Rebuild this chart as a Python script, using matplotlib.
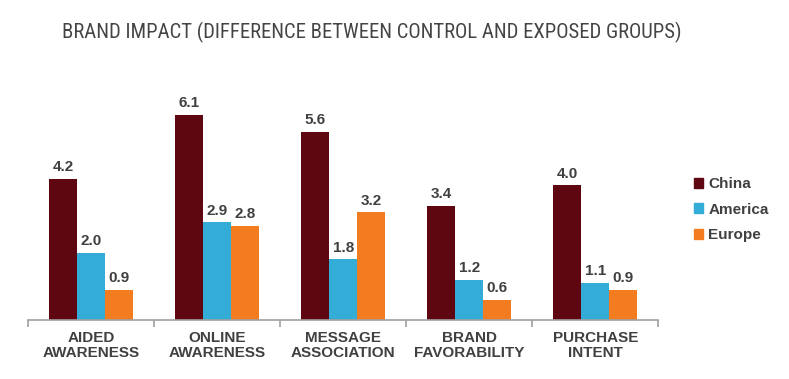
import matplotlib
matplotlib.use("Agg")
import numpy as np
import matplotlib.pyplot as plt
from matplotlib.patches import Patch
from matplotlib import font_manager

categories = ["AIDED\nAWARENESS", "ONLINE\nAWARENESS", "MESSAGE\nASSOCIATION",
              "BRAND\nFAVORABILITY", "PURCHASE\nINTENT"]
series = ["China", "America", "Europe"]
china = [4.2, 6.1, 5.6, 3.4, 4.0]
america = [2.0, 2.9, 1.8, 1.2, 1.1]
europe = [0.9, 2.8, 3.2, 0.6, 0.9]

title = "BRAND IMPACT (DIFFERENCE BETWEEN CONTROL AND EXPOSED GROUPS)"

colors = ["#5e0711", "#33add8", "#f47c20"]
text_col = "#404040"

plt.rcParams["font.family"] = ["Liberation Sans", "DejaVu Sans"]

# pick a narrow face for the title if one is installed
names = {f.name for f in font_manager.fontManager.ttflist}
title_font = {"family": "Liberation Sans"}
for cand in ["Liberation Sans Narrow", "Roboto Condensed", "Open Sans Condensed",
             "DejaVu Sans Condensed"]:
    if cand in names:
        title_font = {"family": cand}
        break
else:
    cond = [f for f in font_manager.fontManager.ttflist
            if f.stretch in ("condensed", "semi-condensed", "extra-condensed")
            and f.style == "normal"]
    if cond:
        title_font = {"family": cond[0].name, "stretch": cond[0].stretch}

fig = plt.figure(figsize=(7.89, 3.79), dpi=100)
ax = fig.add_axes([0.0359, 0.1557, 0.7985, 0.577])

x = np.arange(len(categories)) + 0.5
w = 0.222
for i, (name, vals) in enumerate(zip(series, [china, america, europe])):
    bars = ax.bar(x + (i - 1) * w, vals, width=w, color=colors[i], label=name)
    for b, v in zip(bars, vals):
        ax.annotate(f"{v:.1f}", (b.get_x() + b.get_width() / 2, v),
                    xytext=(0, 3.3), textcoords="offset points",
                    ha="center", va="bottom", fontsize=11, fontweight="bold",
                    color=text_col)

ax.set_xlim(0, len(categories))
ax.set_ylim(0, 6.5)
for s in ["top", "right", "left"]:
    ax.spines[s].set_visible(False)
ax.spines["bottom"].set_color("#a0a0a0")
ax.spines["bottom"].set_linewidth(1.2)
ax.set_yticks([])

ax.set_xticks(np.arange(len(categories) + 1))
ax.set_xticklabels([])
ax.tick_params(axis="x", which="major", length=5, width=1.2, color="#a0a0a0",
               direction="out")
ax.set_xticks(x, minor=True)
ax.set_xticklabels(categories, minor=True, fontsize=11, fontweight="bold",
                   color=text_col, linespacing=1.05)
ax.tick_params(axis="x", which="minor", length=0, pad=8)

# title: fit to the width it takes in the reference
t = fig.text(0.0786, 1 - 38.3 / 379, title, ha="left", va="baseline",
             fontsize=17, color="#444444", **title_font)
fig.canvas.draw()
tw = t.get_window_extent().width
target = 618
if tw > target:
    t.set_fontsize(17 * target / tw)

handles = [Patch(color=c, label=n) for c, n in zip(colors, series)]
fig.legend(handles=handles, loc="center left", bbox_to_anchor=(0.862, 0.447),
           frameon=False, handlelength=0.6, handleheight=0.6,
           handletextpad=0.35, labelspacing=0.75,
           prop={"size": 11, "weight": "bold"}, labelcolor=text_col)

fig.savefig("out.png", dpi=100)
